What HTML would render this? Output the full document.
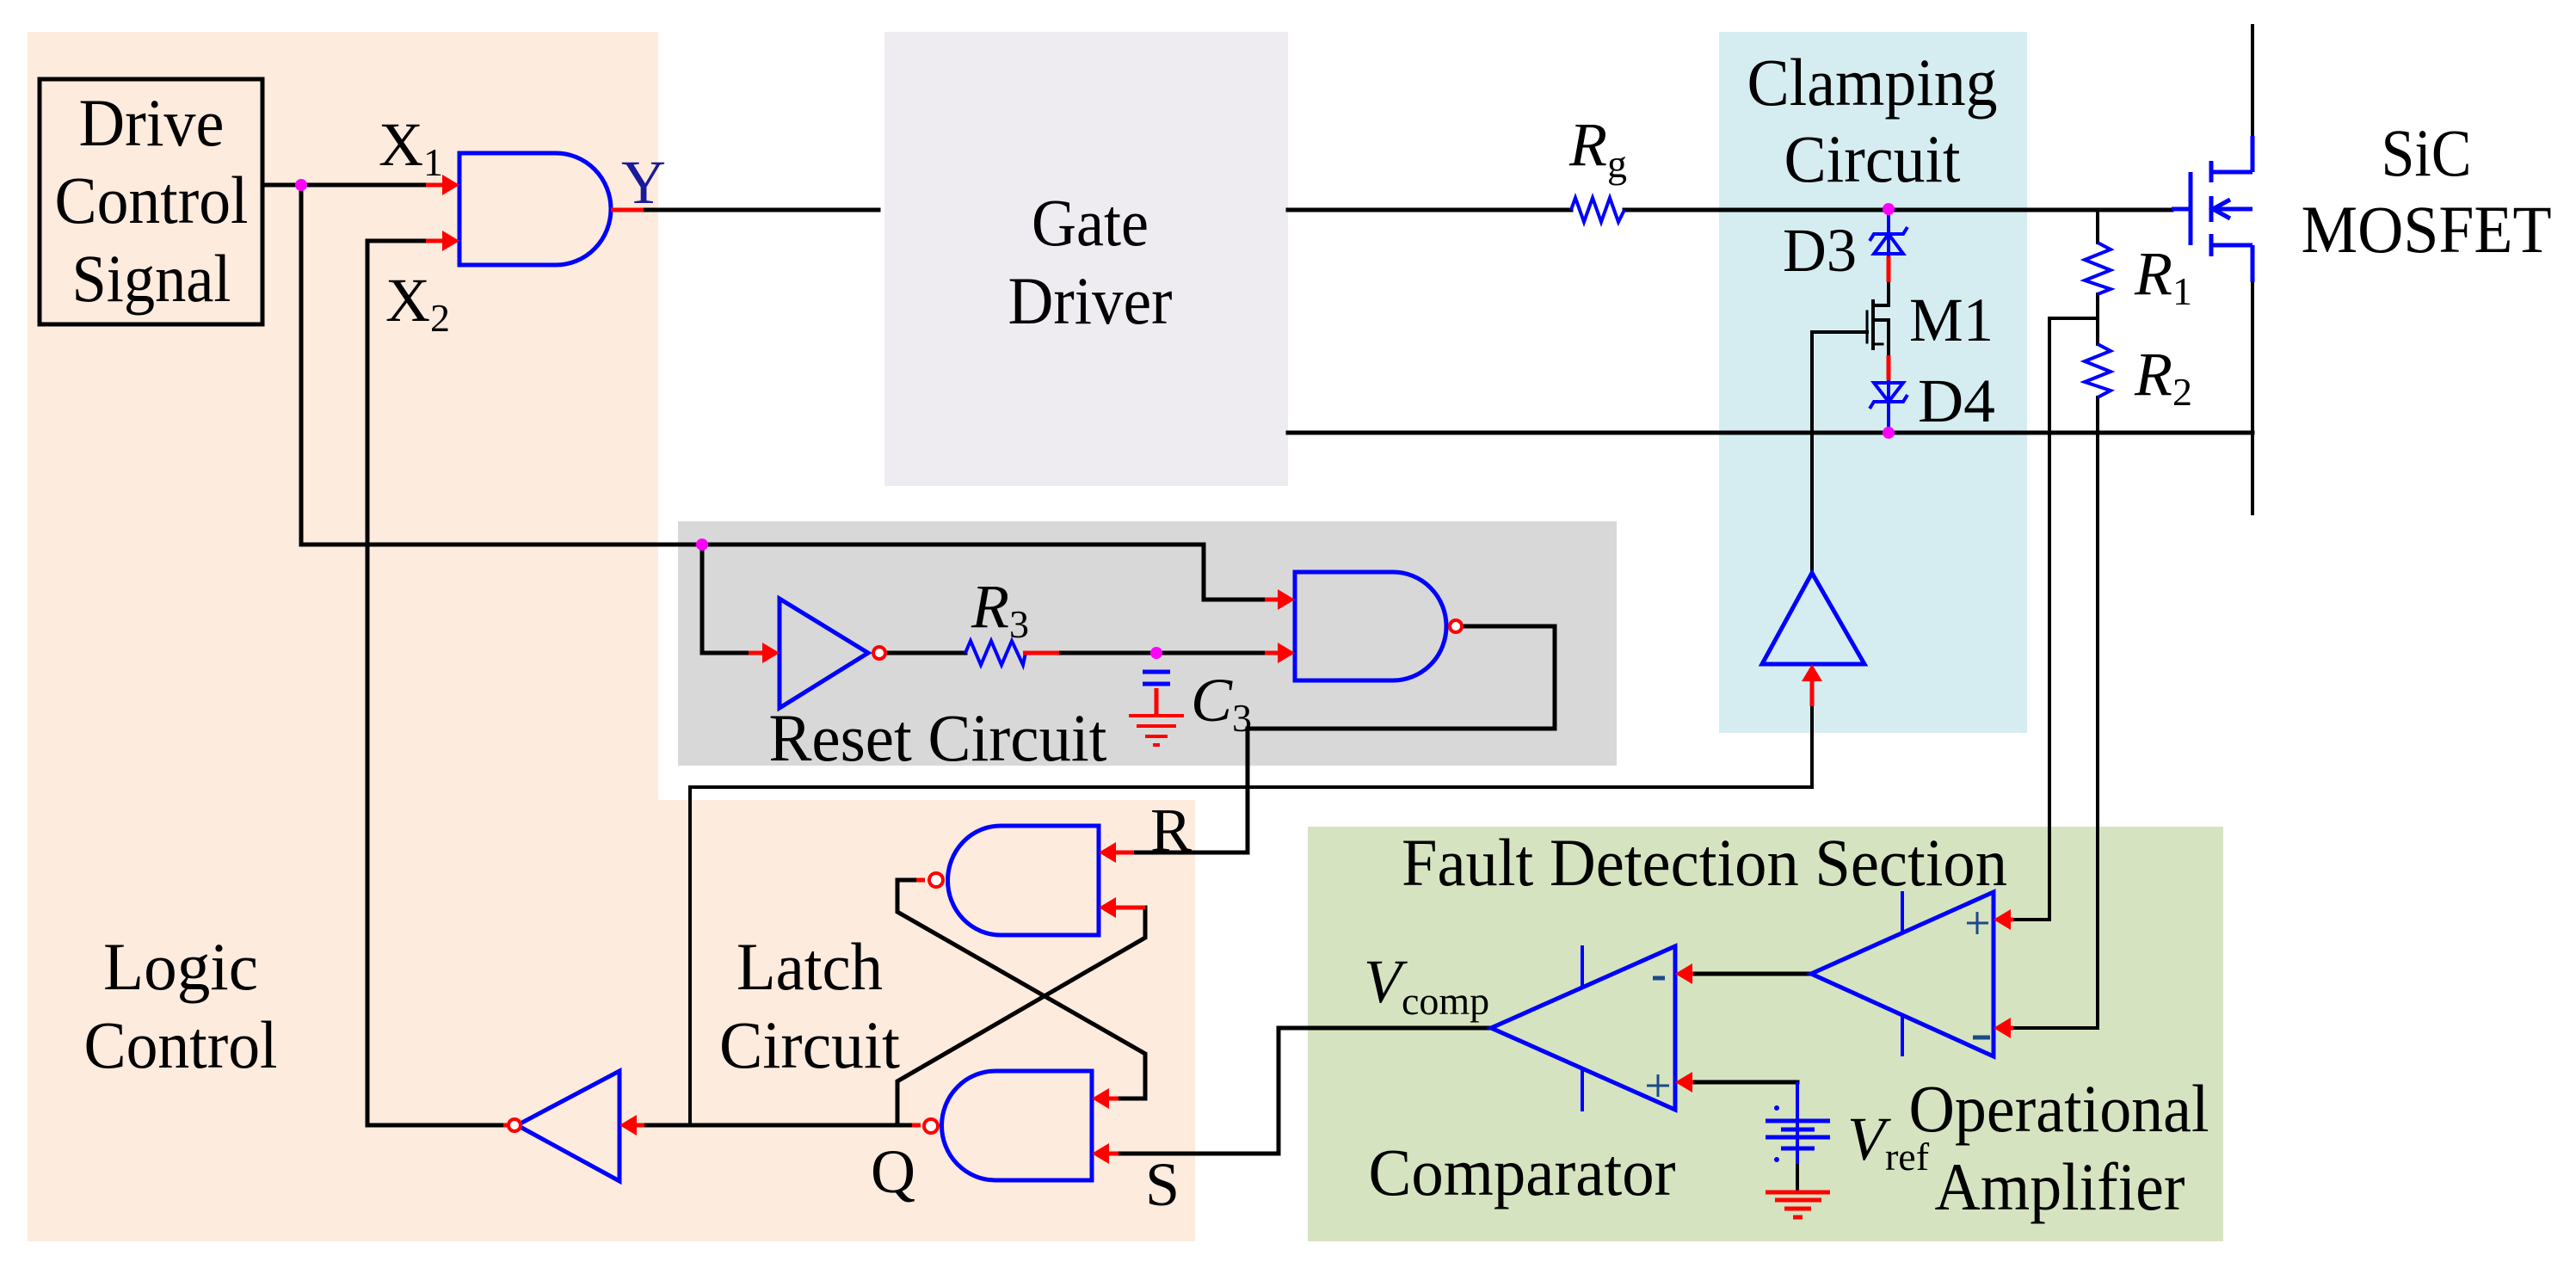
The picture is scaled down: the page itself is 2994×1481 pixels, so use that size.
<!DOCTYPE html>
<html><head><meta charset="utf-8"><style>html,body{margin:0;padding:0;background:#fff}svg{display:block}text,tspan{font-family:"Liberation Serif","Noto Serif CJK SC","DejaVu Serif",serif;fill:#000}</style></head>
<body>
<svg width="2994" height="1481" viewBox="0 0 2994 1481" xmlns="http://www.w3.org/2000/svg">
<rect x="32" y="37" width="733" height="1406" fill="#fdebdd"/>
<rect x="765" y="930" width="624" height="513" fill="#fdebdd"/>
<rect x="788" y="606" width="1091" height="284" fill="#d8d8d8"/>
<rect x="1028" y="37" width="469" height="528" fill="#eeebf1"/>
<rect x="1998" y="37" width="358" height="815" fill="#d5edf1"/>
<rect x="1520" y="961" width="1064" height="482" fill="#d6e3c0"/>

<g stroke="#000" stroke-width="5" fill="none" stroke-linecap="square">
<rect x="46" y="92" width="259" height="285"/>
<path d="M305,215 H500"/>
<path d="M350,215 V633 H1399 V697 H1470"/>
<path d="M816,633 V759 H870"/>
<path d="M427,1308 V280 H495"/>
<path d="M748,244 H1021"/>
<path d="M1029,759 H1122"/>
<path d="M1231,759 H1470"/>
<path d="M1700,728 H1807 V847 H1450 V991 H1318" />
<path d="M1497,244 H1826"/>
<path d="M1888,244 H2524"/>
<path d="M1497,503 H2618"/>
<path d="M2438,244 V282" stroke-width="4"/>
<path d="M2438,342 V400" stroke-width="4"/>
<path d="M2438,370 H2382 V1069 H2340" stroke-width="4"/>
<path d="M2438,462 V1195 H2340" stroke-width="4"/>
<path d="M2618,30 V158" stroke-width="4"/>
<path d="M2618,328 V597" stroke-width="4"/>
<path d="M2195,328 V355 H2177" stroke-width="4"/>
<path d="M2177,350 V405" stroke-width="4"/>
<path d="M2170,362 V398" stroke-width="3"/>
<path d="M2177,372 H2195 V413" stroke-width="4"/>
<path d="M2177,400 H2188" stroke-width="3"/>
<path d="M2106,666 V386 H2170" stroke-width="4"/>
<path d="M2106,821 V915 H802 V1308" stroke-width="4"/>
<path d="M1318,1055 H1331 V1090 L1043,1257 V1308"/>
<path d="M1065,1023 H1043 V1060 L1331,1225 V1277 H1300"/>
<path d="M1060,1308 H749"/>
<path d="M585,1308 H428"/>
<path d="M1486,1195 H1734"/>
<path d="M1486,1195 V1341 H1300" />
<path d="M2105,1132 H1968"/>
<path d="M1968,1258 H2089"/>
<path d="M2089,1353 V1385" stroke-width="4"/>
</g>

<g stroke="#0000ff" stroke-width="5" fill="none">
<path d="M534,178 H646 A64,65 0 0 1 646,308 H534 Z"/>
<path d="M1505,665 H1619 A62,63 0 0 1 1619,791 H1505 Z"/>
<path d="M906,696 V823 L1009,759 Z"/>
<path d="M1277,960 H1163 A61,63 0 0 0 1163,1087 H1277 Z"/>
<path d="M1269,1245 H1157 A62,63 0 0 0 1157,1372 H1269 Z"/>
<path d="M720,1245 V1373 L601,1308 Z"/>
<path d="M2106,666 L2048,772 H2167 Z"/>
<path d="M2317,1037 V1228 L2105,1132 Z"/>
<path d="M2211,1036 V1083 M2211,1180 V1228" stroke-width="4"/>
<path d="M1947,1100 V1290 L1733,1195 Z"/>
<path d="M1839,1099 V1148 M1839,1243 V1292" stroke-width="4"/>
<path d="M1122,759 L1128,745 L1140,773 L1152,745 L1164,773 L1176,745 L1189,773 L1192,759" stroke-width="4"/>
<path d="M1826,244 L1831,230 L1841,258 L1851,230 L1861,258 L1871,230 L1881,258 L1888,244" stroke-width="4"/>
<path d="M2438,282 L2453,290 L2423,302 L2453,314 L2423,326 L2453,336 L2438,342" stroke-width="4"/>
<path d="M2438,400 L2453,408 L2423,420 L2453,432 L2423,444 L2453,454 L2438,462" stroke-width="4"/>
<path d="M1328,781 H1360 M1328,795 H1360" stroke-width="5"/>
<path d="M2195,243 V298" stroke-width="4"/>
<path d="M2178,295 H2212 L2195,272 Z" stroke-width="4"/>
<path d="M2173,280 L2178,272 H2212 L2217,264" stroke-width="4"/>
<path d="M2195,442 V503" stroke-width="4"/>
<path d="M2178,445 H2212 L2195,467 Z" stroke-width="4"/>
<path d="M2173,475 L2178,467 H2212 L2217,459" stroke-width="4"/>
<path d="M2524,243 H2546 M2546,200 V285" stroke-width="5"/>
<path d="M2570,187 V212 M2570,228 V258 M2570,272 V298" stroke-width="5"/>
<path d="M2570,200 H2618 M2570,285 H2618 M2618,158 V200 M2618,285 V328 M2570,243 H2618" stroke-width="5"/>
<path d="M2592,232 L2572,243 L2592,254" stroke-width="5"/>
<path d="M2089,1258 V1353" stroke-width="4"/>
<path d="M2052,1303 H2127 M2070,1313 H2109 M2052,1322 H2127 M2070,1335 H2109" stroke-width="5"/>
</g>
<g stroke="#1a4a8a" stroke-width="3">
<path d="M2286,1073 H2311 M2298,1060 V1086"/>
<path d="M2293,1206 H2313" stroke-width="5"/>
<path d="M1914,1262 H1940 M1927,1249 V1275"/>
<path d="M1921,1137 H1935" stroke-width="5"/>
</g>
<circle cx="2065" cy="1288" r="3" fill="#0000ff"/>
<circle cx="2065" cy="1348" r="3" fill="#0000ff"/>

<g stroke="#ff0000" stroke-width="5" fill="none">
<path d="M495,215 H520 M495,280 H520 M710,244 H748"/>
<path d="M870,759 H890 M1189,759 H1231 M1470,697 H1490 M1470,759 H1490"/>
<path d="M2195,298 V328 M2195,413 V442"/>
<path d="M2106,776 V821"/>
<path d="M1344,800 V832"/>
<path d="M1318,991 H1295 M1331,1055 H1295 M1300,1277 H1287 M1300,1341 H1287"/>
<path d="M1065,1023 H1075 M1060,1308 H1070 M749,1308 H740 M585,1308 H590"/>
<path d="M1968,1132 H1960 M1968,1258 H1960 M2340,1069 H2330 M2340,1195 H2330"/>
<path d="M1312,832 H1376 M1321,844 H1367 M1331,856 H1357 M1340,866 H1348" stroke-width="4"/>
<path d="M2052,1386 H2127 M2063,1395 H2117 M2074,1405 H2105 M2084,1415 H2095" stroke-width="5"/>
</g>
<g fill="#ff0000">
<path d="M534,215 l-20,-12 v24 z"/>
<path d="M534,280 l-20,-12 v24 z"/>
<path d="M906,759 l-20,-12 v24 z"/>
<path d="M1505,697 l-20,-12 v24 z"/>
<path d="M1505,759 l-20,-12 v24 z"/>
<path d="M2106,772 l-12,20 h24 z"/>
<path d="M1277,991 l20,-12 v24 z"/>
<path d="M1277,1055 l20,-12 v24 z"/>
<path d="M1269,1277 l20,-12 v24 z"/>
<path d="M1269,1341 l20,-12 v24 z"/>
<path d="M720,1308 l20,-12 v24 z"/>
<path d="M1947,1132 l20,-12 v24 z"/>
<path d="M1947,1258 l20,-12 v24 z"/>
<path d="M2317,1069 l20,-12 v24 z"/>
<path d="M2317,1195 l20,-12 v24 z"/>
</g>
<g stroke="#ff0000" stroke-width="4" fill="#fff">
<circle cx="1022" cy="759" r="7"/>
<circle cx="1692" cy="728" r="7"/>
<circle cx="1088" cy="1023" r="8"/>
<circle cx="1082" cy="1309" r="8"/>
<circle cx="598" cy="1308" r="7"/>
</g>
<g fill="#ff00ff">
<circle cx="350" cy="215" r="7"/>
<circle cx="816" cy="633" r="7"/>
<circle cx="1344" cy="759" r="7"/>
<circle cx="2195" cy="243" r="7"/>
<circle cx="2195" cy="503" r="7"/>
</g>

<g font-size="78" text-anchor="middle">
<text x="176" y="169" textLength="169" lengthAdjust="spacingAndGlyphs">Drive</text>
<text x="176" y="259" textLength="225" lengthAdjust="spacingAndGlyphs">Control</text>
<text x="176" y="350" textLength="185" lengthAdjust="spacingAndGlyphs">Signal</text>
<text x="1267" y="285" textLength="136" lengthAdjust="spacingAndGlyphs">Gate</text>
<text x="1267" y="376" textLength="191" lengthAdjust="spacingAndGlyphs">Driver</text>
<text x="2176" y="122" textLength="291" lengthAdjust="spacingAndGlyphs">Clamping</text>
<text x="2176" y="211" textLength="205" lengthAdjust="spacingAndGlyphs">Circuit</text>
<text x="2820" y="204" textLength="105" lengthAdjust="spacingAndGlyphs">SiC</text>
<text x="2820" y="293" textLength="291" lengthAdjust="spacingAndGlyphs">MOSFET</text>
<text x="210" y="1150" textLength="180" lengthAdjust="spacingAndGlyphs">Logic</text>
<text x="210" y="1241" textLength="225" lengthAdjust="spacingAndGlyphs">Control</text>
<text x="941" y="1150" textLength="170" lengthAdjust="spacingAndGlyphs">Latch</text>
<text x="941" y="1241" textLength="210" lengthAdjust="spacingAndGlyphs">Circuit</text>
<text x="1090" y="884" textLength="393" lengthAdjust="spacingAndGlyphs">Reset Circuit</text>
<text x="1981" y="1029" textLength="704" lengthAdjust="spacingAndGlyphs">Fault Detection Section</text>
<text x="1769" y="1389" textLength="357" lengthAdjust="spacingAndGlyphs">Comparator</text>
<text x="2393" y="1315" textLength="349" lengthAdjust="spacingAndGlyphs">Operational</text>
<text x="2394" y="1406" textLength="291" lengthAdjust="spacingAndGlyphs">Amplifier</text>
</g>
<g font-size="72">
<text x="440" y="192">X<tspan font-size="46" dy="12">1</tspan></text>
<text x="448" y="373">X<tspan font-size="46" dy="12">2</tspan></text>
<text x="722" y="236" style="fill:#1a1a9a">Y</text>
<text x="1129" y="729" font-style="italic">R<tspan font-size="46" dy="12" font-style="normal">3</tspan></text>
<text x="1384" y="838" font-style="italic">C<tspan font-size="46" dy="12" font-style="normal">3</tspan></text>
<text x="1824" y="192" font-style="italic">R<tspan font-size="46" dy="14" font-style="normal">g</tspan></text>
<text x="2072" y="315" textLength="86" lengthAdjust="spacingAndGlyphs">D3</text>
<text x="2219" y="396" textLength="98" lengthAdjust="spacingAndGlyphs">M1</text>
<text x="2229" y="490" textLength="90" lengthAdjust="spacingAndGlyphs">D4</text>
<text x="2481" y="342" font-style="italic">R<tspan font-size="46" dy="12" font-style="normal">1</tspan></text>
<text x="2481" y="459" font-style="italic">R<tspan font-size="46" dy="12" font-style="normal">2</tspan></text>
<text x="1337" y="989">R</text>
<text x="1331" y="1401">S</text>
<text x="1012" y="1386">Q</text>
<text x="1585" y="1165" font-style="italic">V<tspan font-size="46" dy="14" font-style="normal">comp</tspan></text>
<text x="2147" y="1348" font-style="italic">V<tspan font-size="46" dy="12" font-style="normal">ref</tspan></text>
</g>
</svg>
</body></html>
